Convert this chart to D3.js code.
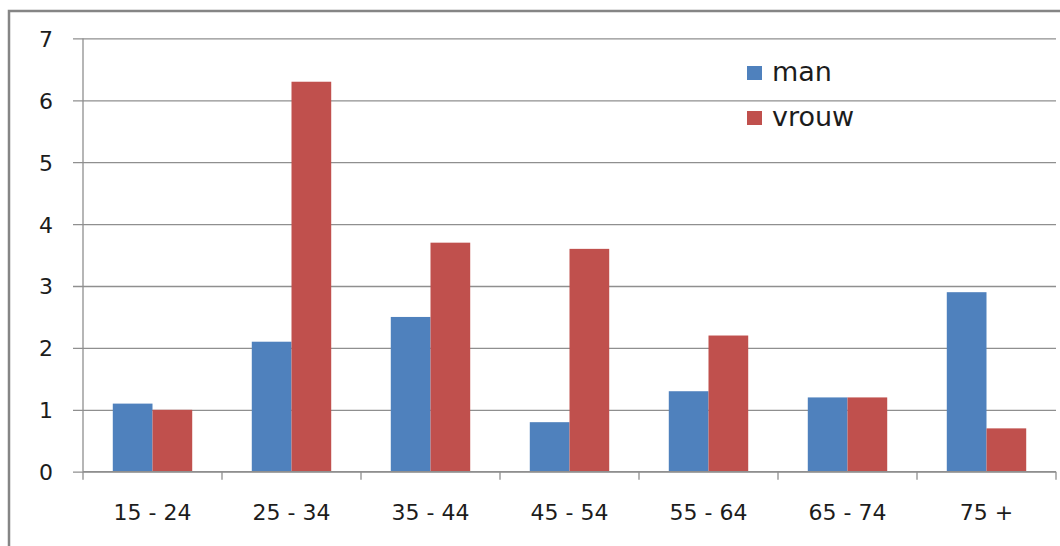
<!DOCTYPE html>
<html>
<head>
<meta charset="utf-8">
<script src="https://cdn.jsdelivr.net/npm/d3@7"></script>
<style>
  html, body { margin: 0; padding: 0; background: #fff; }
  svg { display: block; }
  text { font-family: "DejaVu Sans", Verdana, sans-serif; fill: #1c1c1c; }
</style>
</head>
<body>
<svg id="chart" width="1060" height="546"></svg>
<script>
// Age groups and values per group
const categories = ["15 - 24", "25 - 34", "35 - 44", "45 - 54", "55 - 64", "65 - 74", "75 +"];
const seriesNames = ["man", "vrouw"];
const manValues = [1.1, 2.1, 2.5, 0.8, 1.3, 1.2, 2.9];
const vrouwValues = [1.0, 6.3, 3.7, 3.6, 2.2, 1.2, 0.7];
const yTicks = [0, 1, 2, 3, 4, 5, 6, 7];
const colors = ["#4F81BD", "#C0504D"];

const svg = d3.select("#chart");

// Outer frame of the chart area
svg.append("path")
  .attr("d", "M9,560 L9,11 L1070,11")
  .attr("fill", "none")
  .attr("stroke", "#858585")
  .attr("stroke-width", 2.5);

const plot = { left: 83, right: 1056, top: 38.4, bottom: 471.7 };

const y = d3.scaleLinear().domain([0, 7]).range([plot.bottom, plot.top]);
const x = d3.scaleBand().domain(categories).range([plot.left, plot.right]).padding(0);

// Bars take 2 widths, the gap 1.5 widths
const bw = x.bandwidth() / 3.5;
const x1 = d3.scaleBand().domain(seriesNames)
  .range([bw * 0.75, x.bandwidth() - bw * 0.75]).padding(0);

// Horizontal gridlines with small ticks to the left of the axis
const yAxis = d3.axisLeft(y)
  .tickValues(yTicks)
  .tickSize(-(plot.right - plot.left))
  .tickSizeOuter(0)
  .tickPadding(30)
  .tickFormat(d3.format("d"));

const gy = svg.append("g")
  .attr("transform", `translate(${plot.left},0)`)
  .call(yAxis);
gy.select(".domain").remove();
gy.selectAll(".tick line")
  .attr("x1", -10)
  .attr("stroke", "#8f8f8f")
  .attr("stroke-width", 1.3);
gy.selectAll(".tick text")
  .attr("font-size", 22)
  .attr("font-family", "DejaVu Sans, Verdana, sans-serif")
  .attr("fill", "#1c1c1c")
  .attr("dy", "0.36em");

// Bars
const rows = categories.map((c, i) => ({ cat: c, vals: [manValues[i], vrouwValues[i]] }));
const groups = svg.append("g").selectAll("g")
  .data(rows).join("g")
  .attr("transform", d => `translate(${x(d.cat)},0)`);
groups.selectAll("rect")
  .data(d => d.vals.map((v, k) => ({ key: seriesNames[k], v, k })))
  .join("rect")
  .attr("x", d => x1(d.key))
  .attr("width", x1.bandwidth())
  .attr("y", d => y(d.v))
  .attr("height", d => y(0) - y(d.v))
  .attr("fill", d => colors[d.k]);

// Vertical axis line
svg.append("line")
  .attr("x1", plot.left).attr("x2", plot.left)
  .attr("y1", plot.top).attr("y2", plot.bottom)
  .attr("stroke", "#8f8f8f").attr("stroke-width", 1.3);

// Category axis: ticks at group boundaries, labels at group centers
const gx = svg.append("g").attr("transform", `translate(0,${plot.bottom})`);
gx.append("line")
  .attr("x1", plot.left).attr("x2", plot.right)
  .attr("stroke", "#8f8f8f").attr("stroke-width", 1.3);
const bounds = categories.map(c => x(c)).concat([plot.right]);
gx.selectAll("line.tk").data(bounds).join("line")
  .attr("class", "tk")
  .attr("x1", d => d).attr("x2", d => d)
  .attr("y1", 0).attr("y2", 8)
  .attr("stroke", "#8f8f8f").attr("stroke-width", 1.3);
gx.selectAll("text").data(categories).join("text")
  .attr("x", d => x(d) + x.bandwidth() / 2)
  .attr("y", 48)
  .attr("text-anchor", "middle")
  .attr("font-size", 22)
  .text(d => d);

// Legend
const legend = svg.append("g");
const legendItems = legend.selectAll("g").data(seriesNames).join("g")
  .attr("transform", (d, i) => `translate(747,${66 + i * 45})`);
legendItems.append("rect")
  .attr("width", 15).attr("height", 14)
  .attr("fill", (d, i) => colors[i]);
legendItems.append("text")
  .attr("x", 25).attr("y", 15)
  .attr("font-size", 27)
  .text(d => d);
</script>
</body>
</html>
